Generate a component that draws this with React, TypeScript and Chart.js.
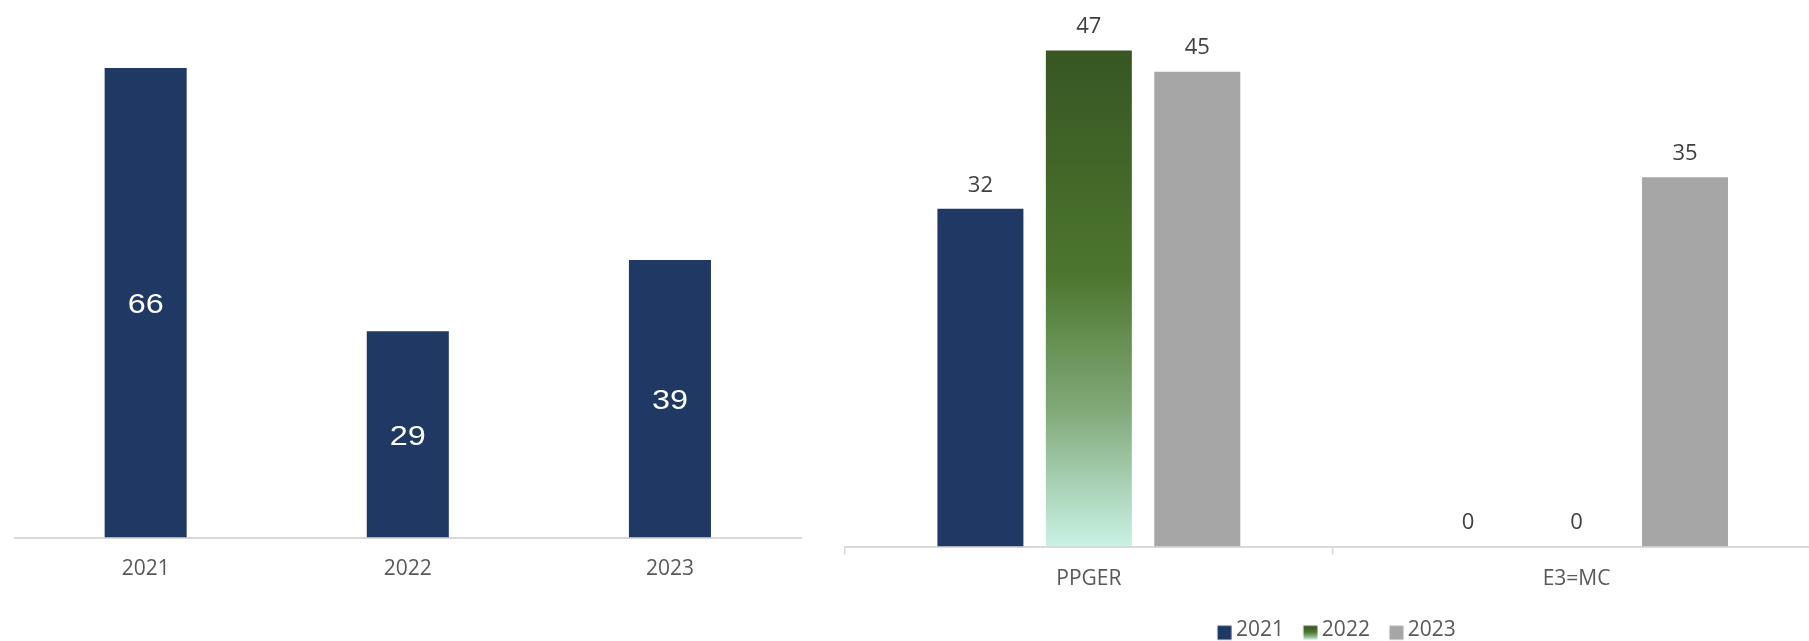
import React, { useEffect, useRef } from "react";
import { Chart, registerables } from "chart.js";

Chart.register(...registerables);

// ---------- data ----------
const leftCategories = ["2021", "2022", "2023"];
const leftValues = [66, 29, 39];

const rightCategories = ["PPGER", "E3=MC"];
const seriesLabels = ["2021", "2022", "2023"];
const series2021 = [32, 0];
const series2022 = [47, 0];
const series2023 = [45, 35];

// ---------- styles ----------
const NAVY = "#203864";
const GREY = "#a6a6a6";
const AXIS = "#d9d9d9";
const TEXT = "#595959";
const LABEL = "#404040";
const greenStops: [number, string][] = [
  [0, "#375623"],
  [0.45, "#4c762e"],
  [0.72, "#80a877"],
  [1, "#c9f2e6"],
];

function makeGradient(ctx: CanvasRenderingContext2D, top: number, bottom: number) {
  const g = ctx.createLinearGradient(0, top, 0, bottom);
  greenStops.forEach(([o, c]) => g.addColorStop(o, c));
  return g;
}

const insideLabels = {
  id: "insideLabels",
  afterDatasetsDraw(chart: any) {
    const ctx = chart.ctx;
    chart.data.datasets.forEach((ds: any, di: number) => {
      chart.getDatasetMeta(di).data.forEach((el: any, i: number) => {
        const p = el.getProps(["x", "y", "base"], true);
        ctx.save();
        ctx.font = "27px 'Liberation Sans', Arial, sans-serif";
        ctx.fillStyle = "#ffffff";
        ctx.textAlign = "center";
        ctx.textBaseline = "middle";
        ctx.translate(p.x, (p.y + p.base) / 2 + 3);
        ctx.scale(1.2, 1);
        ctx.fillText(String(ds.data[i]), 0, 0);
        ctx.restore();
      });
    });
  },
};

const aboveLabels = {
  id: "aboveLabels",
  afterDatasetsDraw(chart: any) {
    const ctx = chart.ctx;
    ctx.save();
    ctx.font = "22px 'Open Sans', sans-serif";
    ctx.fillStyle = LABEL;
    ctx.textAlign = "center";
    ctx.textBaseline = "middle";
    chart.data.datasets.forEach((ds: any, di: number) => {
      chart.getDatasetMeta(di).data.forEach((el: any, i: number) => {
        const p = el.getProps(["x", "y"], true);
        ctx.fillText(String(ds.data[i]), p.x, p.y - 23.5);
      });
    });
    ctx.restore();
  },
};

// legend icon: 14px square placed inside a larger transparent canvas
function makeIcon(fill: "navy" | "green" | "grey") {
  const c = document.createElement("canvas");
  c.width = 26;
  c.height = 24;
  const g = c.getContext("2d")!;
  const ox = 10.7;
  const oy = 7.2;
  if (fill === "green") g.fillStyle = makeGradient(g, oy, oy + 14);
  else g.fillStyle = fill === "navy" ? NAVY : GREY;
  g.fillRect(ox, oy, 14, 14);
  return c;
}

export default function App() {
  const leftRef = useRef<HTMLCanvasElement>(null);
  const rightRef = useRef<HTMLCanvasElement>(null);

  useEffect(() => {
    Chart.defaults.font.family = "'Open Sans', sans-serif";
    const icons = [makeIcon("navy"), makeIcon("green"), makeIcon("grey")];

    const left = new Chart(leftRef.current!, {
      type: "bar",
      data: {
        labels: leftCategories,
        datasets: [
          {
            data: leftValues,
            backgroundColor: NAVY,
            barPercentage: 0.313,
            categoryPercentage: 1,
          },
        ],
      },
      options: {
        responsive: false,
        animation: false,
        layout: { padding: { left: 14.6, right: 14, top: 39.45, bottom: 39.5 } },
        plugins: { legend: { display: false }, tooltip: { enabled: false } },
        scales: {
          x: {
            grid: { display: false, drawTicks: false },
            border: { display: true, color: AXIS, width: 2 },
            ticks: { color: TEXT, font: { size: 21, lineHeight: 1.2 }, padding: 19.4 },
          },
          y: { display: false, min: 0, max: 70 },
        },
      },
      plugins: [insideLabels],
    } as any);

    const greenFill = (c: any) => {
      const y = c.chart.scales?.y;
      if (!y || c.type !== "data") return greenStops[1][1];
      const top = y.getPixelForValue(c.raw);
      const bottom = y.getPixelForValue(0);
      if (!(bottom > top)) return greenStops[0][1];
      return makeGradient(c.chart.ctx, top, bottom);
    };

    const right = new Chart(rightRef.current!, {
      type: "bar",
      data: {
        labels: rightCategories,
        datasets: [
          { label: seriesLabels[0], data: series2021, backgroundColor: NAVY },
          { label: seriesLabels[1], data: series2022, backgroundColor: greenFill },
          { label: seriesLabels[2], data: series2023, backgroundColor: GREY },
        ],
      },
      options: {
        responsive: false,
        animation: false,
        datasets: { bar: { barPercentage: 0.793, categoryPercentage: 0.667 } },
        layout: { padding: { left: 10, right: 0, top: 18.85, bottom: 0 } },
        plugins: {
          legend: {
            position: "bottom",
            labels: {
              usePointStyle: true,
              pointStyleWidth: 11.25,
              padding: 16.2,
              color: TEXT,
              font: { size: 21 },
              generateLabels: (chart: any) => {
                const items = (Chart.defaults.plugins.legend.labels as any).generateLabels(chart);
                return items.map((it: any, i: number) => ({ ...it, pointStyle: icons[i], fontColor: TEXT }));
              },
            },
          },
          tooltip: { enabled: false },
        },
        scales: {
          x: {
            grid: {
              display: true,
              drawOnChartArea: false,
              drawTicks: true,
              tickLength: 8,
              color: AXIS,
              lineWidth: 1.5,
              offset: true,
            },
            border: { display: true, color: AXIS, width: 2 },
            ticks: { color: TEXT, font: { size: 21, lineHeight: 1.2 }, padding: 12 },
          },
          y: {
            position: "right",
            min: 0,
            max: 50,
            grid: { display: false },
            border: { display: false },
            ticks: { display: false },
            afterFit: (s: any) => {
              s.width = 4.6;
            },
          },
        },
      },
      plugins: [aboveLabels],
    } as any);

    return () => {
      left.destroy();
      right.destroy();
    };
  }, []);

  return (
    <div
      style={{
        position: "fixed",
        left: 0,
        top: 0,
        width: 1809,
        height: 641,
        overflow: "hidden",
        background: "#ffffff",
      }}
    >
      <canvas ref={leftRef} width={815} height={641} style={{ position: "absolute", left: 0, top: 0 }} />
      <canvas ref={rightRef} width={990} height={651} style={{ position: "absolute", left: 835, top: 0 }} />
    </div>
  );
}
